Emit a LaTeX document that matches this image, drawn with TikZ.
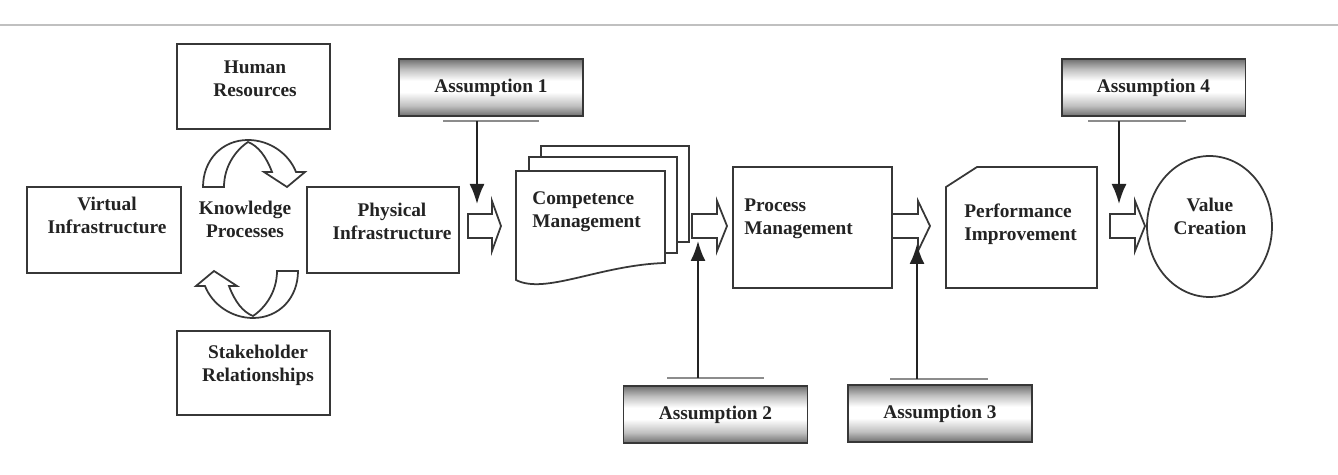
\documentclass[tikz,border=0pt]{standalone}
\usepackage{fontspec}
\setmainfont{Liberation Serif}
\usetikzlibrary{calc, positioning, arrows.meta, shapes.geometric}
\definecolor{LineGrey}{RGB}{55,55,55}
\definecolor{BarGrey}{RGB}{140,140,140}
\definecolor{RuleGrey}{RGB}{192,192,192}
\definecolor{ShadeGrey}{RGB}{110,110,110}
\definecolor{TextGrey}{RGB}{35,35,35}
\pgfdeclareverticalshading{assumshade}{100bp}{color(0bp)=(ShadeGrey); color(25bp)=(ShadeGrey);
  color(34bp)=(black!25); color(46bp)=(white); color(56bp)=(white); color(66bp)=(black!25);
  color(75bp)=(ShadeGrey); color(100bp)=(ShadeGrey)}
\tikzset{
  box/.style={draw=LineGrey, line width=1pt, fill=white, inner sep=0pt},
  txt/.style={font=\fontsize{11}{13}\selectfont\bfseries, text=TextGrey, align=center, inner sep=0pt},
  assum/.style={draw=LineGrey, line width=1.1pt, shading=assumshade, minimum width=3.68cm,
                minimum height=1.14cm, inner sep=0pt,
                font=\fontsize{11}{13}\selectfont\bfseries, text=TextGrey},
  bar/.style={draw=BarGrey, line width=1.3pt},
  down/.style={-{Latex[length=0.4cm, width=0.3cm]}, line width=1.1pt, draw=TextGrey},
  blockarr/.style={draw=LineGrey, line width=1pt, fill=white, line join=miter}
}

\begin{document}
\begin{tikzpicture}[x=0.02cm, y=-0.02cm]
  \useasboundingbox (0,0) rectangle (1338,475);
  \draw[RuleGrey, line width=1.3pt] (0,25) -- (1338,25);

  \node[box, minimum width=3.06cm, minimum height=1.70cm] (hr) at (253.5,86.5) {};
  \node[txt] (hrt) at (255,78.5) {Human\\Resources};
  \node[box, minimum width=3.08cm, minimum height=1.72cm] (vi) at (104,230) {};
  \node[txt] (vit) at (107,215) {Virtual\\Infrastructure};
  \node[box, minimum width=3.04cm, minimum height=1.72cm] (pi) at (383,230) {};
  \node[txt] (pit) at (392,221.5) {Physical\\Infrastructure};
  \node[box, minimum width=3.06cm, minimum height=1.68cm] (sr) at (253.5,373) {};
  \node[txt] (srt) at (258,365) {Stakeholder\\Relationships};
  \node[txt] (kp) at (245,219.5) {Knowledge\\Processes};

  \foreach \rot in {0,180} {
    \begin{scope}[rotate around={\rot:(250.5,229)}]
      \draw[blockarr] (203,187) .. controls (203,160) and (222,140) .. (248,140)
        .. controls (270,140) and (289,154) .. (296,172) -- (305,172) -- (287,187)
        -- (264,172) -- (272,172) .. controls (266,156) and (258,146) .. (248,142)
        .. controls (236,150) and (224,166) .. (224,187) -- cycle;
    \end{scope}
  }

  \draw[box] (541,146) rectangle (689,242);
  \draw[box] (529,157) rectangle (677,253);
  \draw[box] (516,171) -- (665,171) -- (665,263) .. controls (600,265) and (545,295) .. (516,280) -- cycle;
  \node[txt, anchor=west, align=left] (cm) at (532,212) {Competence\\Management};

  \node[box, minimum width=3.18cm, minimum height=2.42cm] (pm) at (812.5,227.5) {};
  \node[txt, anchor=west, align=left] (pmt) at (744,219) {Process\\Management};

  \draw[box] (977,167) -- (1097,167) -- (1097,288) -- (946,288) -- (946,187) -- cycle;
  \node[txt, anchor=west, align=left] (pfi) at (964,224) {Performance\\Improvement};

  \node[box, ellipse, minimum width=2.5cm, minimum height=2.82cm] (vc) at (1209.5,226.5) {};
  \node[txt] (vct) at (1210,216) {Value\\Creation};

  \foreach \x/\h/\e in {468/492/501, 692/717/727, 892/918/930, 1110/1135/1145} {
    \draw[blockarr] (\x,214) -- (\h,214) -- (\h,201) -- (\e,226) -- (\h,251) -- (\h,238) -- (\x,238) -- cycle;
  }

  \node[assum] (as1) at (491,87.5) {Assumption 1};
  \node[assum] (as2) at (715.5,414.5) {Assumption 2};
  \node[assum] (as3) at (940,413.5) {Assumption 3};
  \node[assum] (as4) at (1153.5,87.5) {Assumption 4};

  \foreach \xa/\xb/\y in {443/539/121, 667/764/378, 890/988/379, 1088/1186/121} {
    \draw[bar] (\xa,\y) -- (\xb,\y);
  }
  \foreach \n/\x/\ya/\yb in {1/477/121/204, 2/698/378/241, 3/917/379/244, 4/1119/121/204} {
    \coordinate (b\n) at (\x,\ya);
    \coordinate (t\n) at (\x,\yb);
    \draw[down] (b\n) -- (t\n);
  }
\end{tikzpicture}
\end{document}
